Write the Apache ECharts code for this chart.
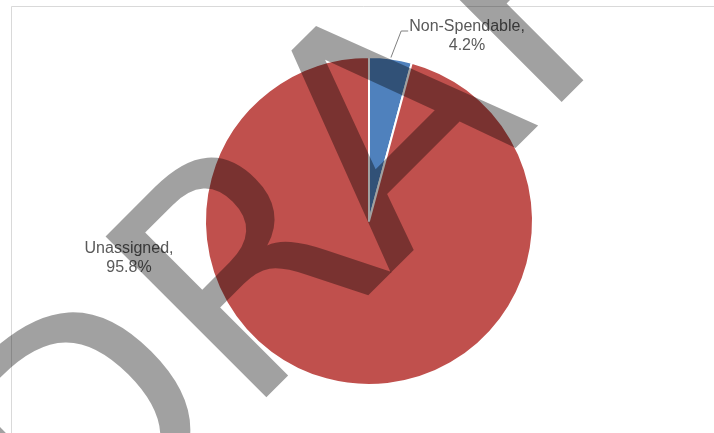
<!DOCTYPE html>
<html>
<head>
<meta charset="utf-8">
<script src="https://cdn.jsdelivr.net/npm/echarts@6/dist/echarts.min.js"></script>
<style>
  html, body { margin: 0; padding: 0; background: #ffffff; }
  #chart { width: 714px; height: 433px; }
</style>
</head>
<body>
<div id="chart"></div>
<script>
// Fund balance components (percent of total)
const categories = ['Non-Spendable', 'Unassigned'];
const shares = [4.2, 95.8];
const sliceColors = ['#4F81BD', '#C0504D'];
const watermarkText = 'DRAFT';

const CX = 369, CY = 221, R = 164;

const chart = echarts.init(document.getElementById('chart'), null, { renderer: 'canvas' });

const labelFont = {
  fontFamily: '"Liberation Sans", Arial, sans-serif',
  fontSize: 16,
  lineHeight: 19,
  color: '#595959'
};

chart.setOption({
  animation: false,
  backgroundColor: '#ffffff',
  graphic: [
    {
      type: 'rect',
      z: 0,
      silent: true,
      shape: { x: 11.5, y: 6.5, width: 760, height: 500 },
      style: { fill: 'none', stroke: '#d9d9d9', lineWidth: 1 }
    },
    {
      type: 'text',
      z: 100,
      silent: true,
      x: 379,
      y: 170,
      rotation: Math.PI / 4,
      style: {
        text: watermarkText,
        fontFamily: '"DejaVu Sans", sans-serif',
        fontSize: 312,
        fontWeight: 'normal',
        fill: 'rgba(0,0,0,0.37)',
        align: 'center',
        verticalAlign: 'middle'
      }
    }
  ],
  series: [
    {
      type: 'pie',
      center: [CX, CY],
      radius: R,
      startAngle: 90,
      clockwise: true,
      itemStyle: { borderColor: '#ffffff', borderWidth: 2 },
      label: Object.assign({
        show: true,
        position: 'outside',
        formatter: (p) => p.name + ',\n' + p.value + '%'
      }, labelFont),
      labelLine: { show: true, lineStyle: { color: '#808080', width: 1 } },
      labelLayout: (params) => {
        const w = params.labelRect.width;
        if (params.dataIndex === 0) {
          const x = CX + 98, y = 17;
          const edge = params.labelLinePoints ? params.labelLinePoints[0] : [CX, CY - R];
          const lineY = y + 14;
          const left = x - w / 2;
          return {
            x: x, y: y, align: 'center', verticalAlign: 'top',
            labelLinePoints: [edge, [left - 8, lineY], [left - 1, lineY]]
          };
        }
        return { x: CX - 240, y: 239, align: 'center', verticalAlign: 'top' };
      },
      data: categories.map((name, i) => ({
        name: name,
        value: shares[i],
        itemStyle: { color: sliceColors[i] },
        labelLine: { show: i === 0 }
      }))
    }
  ]
});
</script>
</body>
</html>
